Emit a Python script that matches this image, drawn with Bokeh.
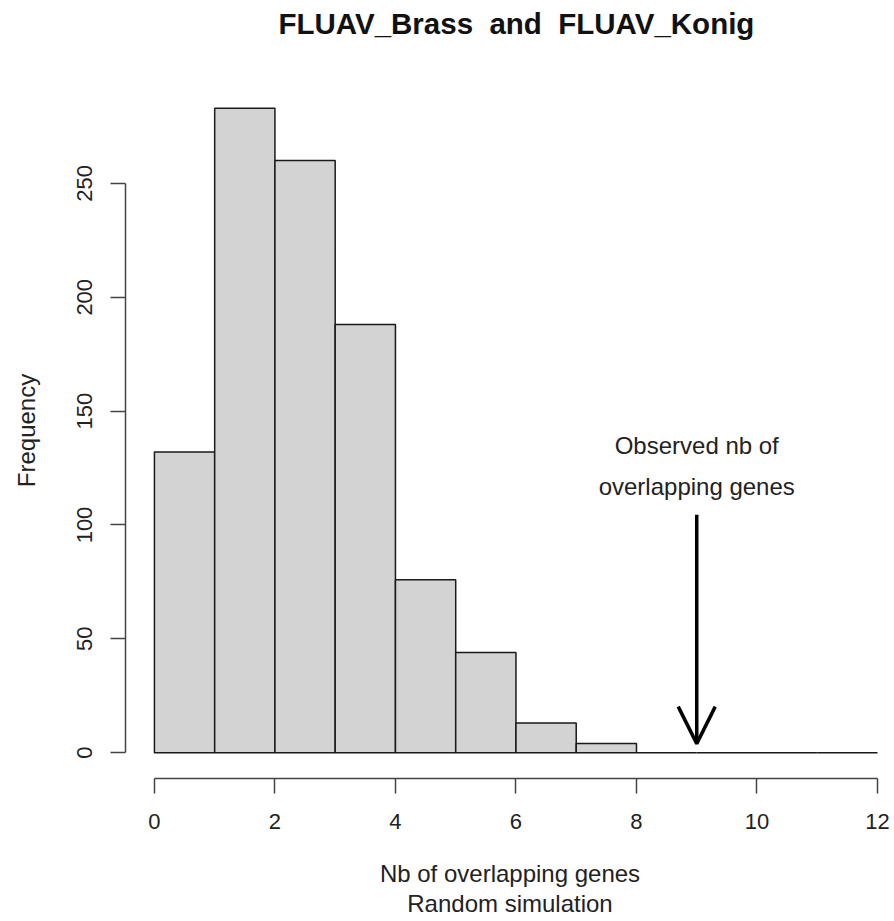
from bokeh.plotting import figure
from bokeh.models import Range1d, FixedTicker, Arrow, OpenHead, Title
from bokeh.core.properties import value
from bokeh.embed import file_html
from bokeh.resources import INLINE

# ---- data ----
bin_left = [0, 1, 2, 3, 4, 5, 6, 7, 8, 9, 10, 11]
bin_right = [1, 2, 3, 4, 5, 6, 7, 8, 9, 10, 11, 12]
counts = [132, 283, 260, 188, 76, 44, 13, 4, 0, 0, 0, 0]
x_ticks = [0, 2, 4, 6, 8, 10, 12]
y_ticks = [0, 50, 100, 150, 200, 250]
observed = 9
title_text = "FLUAV_Brass \u00a0and \u00a0FLUAV_Konig"
x_label = "Nb of overlapping genes\nRandom simulation"
y_label = "Frequency"
note_lines = ["Observed nb of", "overlapping genes"]

FONT = "Liberation Sans"
TXT = "#222222"

p = figure(width=894, height=921, output_backend="svg", toolbar_location=None,
           x_range=Range1d(-0.48, 12.282), y_range=Range1d(-11.32, 294.3),
           min_border_left=125, min_border_right=0, min_border_top=82,
           min_border_bottom=143)

# main title (outermost) + spacer between it and the frame
p.title.text = title_text
p.title.align = "left"
p.title.offset = 153
p.title.standoff = 2
p.title.text_font = FONT
p.title.text_font_size = "29.5px"
p.title.text_font_style = "bold"
p.title.text_color = "#111111"
p.add_layout(Title(text=" ", text_font_size="1px", standoff=39), "above")

p.xgrid.visible = False
p.ygrid.visible = False
p.outline_line_color = None
p.background_fill_color = "white"
p.border_fill_color = "white"

p.quad(left=bin_left, right=bin_right, bottom=0, top=counts,
       fill_color="#D3D3D3", line_color="#1a1a1a", line_width=1.5)

# annotation
p.text(x=[observed, observed], y=[135, 117], text=note_lines,
       text_align="center", text_baseline="alphabetic",
       text_font=value(FONT), text_font_size="24px", text_color=TXT)
p.add_layout(Arrow(end=OpenHead(size=37, line_width=3.5, line_color="black"),
                   x_start=observed, y_start=104.5, x_end=observed, y_end=4,
                   line_width=3.5, line_color="black"))

for ax in (p.xaxis[0], p.yaxis[0]):
    ax.axis_line_color = "#444444"
    ax.axis_line_width = 1.5
    ax.major_tick_line_color = "#444444"
    ax.major_tick_line_width = 1.5
    ax.major_tick_out = 15
    ax.major_tick_in = 0
    ax.minor_tick_out = 0
    ax.minor_tick_in = 0
    ax.major_label_text_font = FONT
    ax.major_label_text_font_size = "22px"
    ax.major_label_text_color = TXT
    ax.axis_label_text_font = FONT
    ax.axis_label_text_font_size = "24px"
    ax.axis_label_text_font_style = "normal"
    ax.axis_label_text_color = TXT

p.xaxis.ticker = FixedTicker(ticks=x_ticks)
p.xaxis.bounds = (x_ticks[0], x_ticks[-1])
p.xaxis.axis_label = x_label
p.xaxis.axis_label_text_line_height = 1.116
p.xaxis.major_label_standoff = 20
p.xaxis.axis_label_standoff = 28

p.yaxis.ticker = FixedTicker(ticks=y_ticks)
p.yaxis.bounds = (y_ticks[0], y_ticks[-1])
p.yaxis.axis_label = y_label
p.yaxis.major_label_orientation = "vertical"
p.yaxis.major_label_standoff = 18
p.yaxis.axis_label_standoff = 35

open("out.html", "w").write(file_html(p, INLINE))
